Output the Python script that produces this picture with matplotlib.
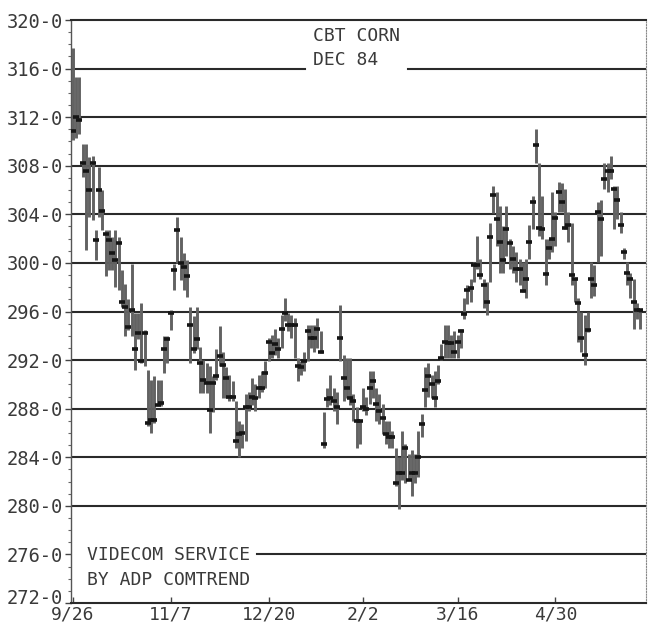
import matplotlib
matplotlib.use("Agg")
import matplotlib.pyplot as plt
import matplotlib.transforms as mtransforms
import numpy as np

# ---- data (CBT Corn Dec 84, daily high / low / close, cents/bu) ----
highs = [
    317.7, 315.3, 315.3, 309.8, 309.8, 308.7, 308.8, 302.7, 307.9, 306.0,
    302.7, 302.7, 302.1, 302.7, 302.1, 299.4, 298.3, 297.0, 299.9, 295.9,
    295.9, 296.7, 294.5, 291.2, 290.4, 290.7, 290.4, 290.4, 294.0, 294.0,
    296.1, 299.9, 303.8, 302.1, 300.8, 300.2, 296.4, 295.6, 296.4, 293.1,
    292.0, 291.8, 291.5, 290.7, 292.9, 294.8,
    292.7, 291.4, 290.8, 290.3, 288.6, 287.0, 286.7, 289.2, 289.4, 290.5,
    290.0, 290.8, 291.1, 291.9, 293.8, 294.1, 294.6, 293.8, 295.7, 297.1,
    295.9, 295.7, 295.5, 292.2, 291.9, 292.7, 294.9, 294.9, 294.9, 295.5,
    294.4, 287.7, 289.7, 290.8, 289.7, 289.4, 296.5, 292.4, 292.2, 292.2,
    289.2, 288.1, 287.0, 289.7, 289.0,
    291.1, 291.1, 289.7, 289.2, 288.4, 287.0, 287.0, 286.2, 284.8, 284.0,
    286.2, 285.1, 284.3, 284.6, 284.3, 286.2, 287.6, 291.4, 291.8, 290.8,
    291.1, 291.6, 293.3, 294.9, 294.9, 294.1, 294.4, 294.1, 294.6, 297.1,
    298.2, 298.7, 300.1, 302.2, 300.3, 298.7, 298.4, 303.3, 306.3, 305.8,
    304.7, 303.0, 304.7,
    302.0, 301.4, 300.9, 300.3, 300.1, 300.3, 303.1, 305.5, 311.0, 308.2,
    305.5, 302.0, 302.0, 305.8, 304.2, 306.7, 306.6, 306.1, 304.2, 303.3,
    298.7, 297.1, 296.0, 295.7, 296.0, 300.1, 299.8, 305.0, 305.2, 308.2,
    308.2, 308.8, 306.3, 306.3, 304.2, 301.2, 300.1, 299.2, 298.7, 296.7,
    296.0,
]
lows = [
    310.1, 310.3, 310.6, 307.1, 301.1, 303.8, 303.5, 300.2, 303.8, 302.7,
    298.9, 299.4, 299.4, 298.0, 297.8, 296.4, 294.0, 294.5, 294.0, 291.2,
    293.7, 291.8, 291.5, 286.6, 286.0, 286.8, 288.2, 288.2, 290.9, 291.8,
    294.5, 297.8, 300.0, 298.6, 297.8, 297.2, 291.8, 292.6, 292.9, 289.3,
    289.3, 289.3, 286.0, 287.7, 290.4, 291.5,
    288.9, 288.9, 288.6, 288.6, 284.8, 284.0, 284.8, 285.3, 287.8, 288.3,
    287.8, 288.9, 289.4, 289.7, 291.9, 292.2, 292.4, 292.2, 293.0, 295.2,
    294.4, 293.8, 292.2, 290.3, 290.8, 291.1, 291.9, 293.0, 292.7, 293.0,
    292.6, 284.8, 288.1, 288.3, 287.8, 286.7, 291.9, 288.6, 288.9, 288.3,
    287.0, 284.8, 285.1, 287.8, 287.5,
    288.4, 288.9, 287.0, 286.7, 285.9, 285.1, 284.8, 284.8, 281.6, 279.7,
    282.1, 281.9, 282.1, 280.8, 281.9, 282.4, 285.7, 288.1, 289.0, 288.9,
    288.1, 290.0, 292.0, 292.2, 292.2, 292.2, 292.2, 292.2, 293.0, 295.4,
    296.6, 296.8, 298.4, 299.5, 298.7, 296.3, 295.7, 298.4, 304.1, 301.4,
    299.2, 299.2, 300.6,
    299.5, 299.2, 298.4, 298.2, 297.6, 297.1, 300.3, 302.8, 308.2, 302.2,
    302.0, 298.2, 300.3, 300.9, 301.4, 304.2, 304.2, 302.8, 301.7, 298.2,
    296.8, 293.5, 292.7, 291.6, 294.3, 297.1, 297.3, 300.1, 300.6, 306.1,
    305.8, 306.9, 302.8, 303.6, 302.5, 300.3, 298.2, 297.1, 294.6, 295.4,
    294.6,
]
closes = [
    310.9, 312.0, 311.8, 308.2, 307.6, 306.0, 308.2, 301.9, 306.0, 304.3,
    302.4, 301.9, 300.8, 300.2, 301.6, 296.8, 296.4, 294.7, 296.1, 292.9,
    294.2, 291.9, 294.2, 286.8, 287.1, 287.1, 288.3, 288.5, 292.9, 293.7,
    295.9, 299.4, 302.7, 300.0, 299.7, 298.9, 294.9, 292.9, 293.7, 291.8,
    290.4, 290.1, 287.9, 290.1, 290.7, 292.3,
    291.6, 290.5, 289.0, 289.0, 285.3, 285.9, 286.0, 288.1, 288.1, 289.0,
    288.9, 289.7, 289.7, 290.9, 293.5, 292.6, 293.3, 292.9, 294.6, 295.9,
    294.9, 294.9, 294.9, 291.5, 291.4, 291.9, 294.4, 293.8, 293.8, 294.6,
    292.7, 285.1, 288.8, 288.9, 288.6, 288.1, 293.8, 290.5, 289.7, 288.9,
    288.6, 287.0, 287.0, 288.1, 288.0,
    289.7, 290.3, 288.4, 287.8, 287.2, 285.9, 285.7, 285.7, 281.9, 282.7,
    282.7, 284.8, 282.1, 282.7, 282.7, 284.0, 286.7, 289.5, 290.7, 290.0,
    288.9, 290.3, 292.2, 293.5, 293.4, 293.4, 292.7, 293.5, 294.4, 295.8,
    297.8, 297.9, 299.8, 299.8, 299.0, 298.2, 296.8, 302.1, 305.6, 303.6,
    301.7, 300.2, 302.8,
    301.6, 300.3, 299.5, 299.5, 297.7, 298.7, 301.7, 305.0, 309.7, 302.9,
    302.8, 299.1, 301.2, 302.0, 303.7, 305.8, 305.0, 302.9, 303.1, 299.0,
    298.7, 296.7, 293.8, 292.4, 294.5, 298.7, 298.2, 304.2, 303.6, 306.9,
    307.6, 307.6, 306.1, 305.2, 303.1, 300.9, 299.2, 298.7, 296.8, 296.1,
    296.1,
]
date_labels = ["9/26", "11/7", "12/20", "2/2", "3/16", "4/30"]
date_days = [0, 30, 60, 89, 118, 148]          # trading-day offsets
price_ticks = list(range(272, 321, 4))
price_labels = [f"{p}-0" for p in price_ticks]
title_lines = ["CBT CORN", "DEC 84"]
credit_lines = ["VIDECOM SERVICE", "BY ADP COMTREND"]

# ---- figure ----
W, H = 648, 626
fig = plt.figure(figsize=(W / 100, H / 100), dpi=100)
fig.patch.set_facecolor("white")
ax = fig.add_axes([71 / W, 23 / H, 575 / W, 583 / H])

days = np.arange(len(highs))
ink = "#2a2a2a"
txt = "#3a3a3a"
mono = "DejaVu Sans Mono"

ax.set_xlim(-0.6, 175.8)
ax.set_ylim(272, 320)

# horizontal rules
for p in price_ticks[1:-1]:
    if p == 316:
        ax.axhline(p, xmin=0, xmax=0.407, color=ink, lw=1.5, zorder=1)
        ax.axhline(p, xmin=0.586, xmax=1, color=ink, lw=1.5, zorder=1)
    elif p == 276:
        ax.axhline(p, xmin=0.323, xmax=1, color=ink, lw=1.5, zorder=1)
    else:
        ax.axhline(p, color=ink, lw=1.5, zorder=1)

# daily bars
ax.vlines(days, lows, highs, color="#626262", lw=2.1, zorder=2)
ax.plot(days, closes, ls="none", marker="_", ms=4.5, mew=2.6,
        color="#151515", zorder=3)

# spines
for s in ("top", "bottom"):
    ax.spines[s].set_color(ink)
    ax.spines[s].set_linewidth(1.5)
ax.spines["left"].set_color("#555555")
ax.spines["left"].set_linewidth(1.0)
ax.spines["left"].set_linestyle((0, (1, 1)))
ax.spines["right"].set_color("#888888")
ax.spines["right"].set_linewidth(0.8)
ax.spines["right"].set_linestyle((0, (1, 1.5)))

# ticks
ax.set_yticks(price_ticks)
ax.set_yticklabels(price_labels, family=mono, fontsize=13.5, color=txt)
ax.set_yticks(np.arange(272, 321, 1), minor=True)
ax.tick_params(axis="y", which="major", length=4, width=1, color="#444444",
               pad=2, direction="out")
ax.tick_params(axis="y", which="minor", length=2.5, width=0.8,
               color="#666666", direction="out")
ax.set_xticks(date_days)
ax.set_xticklabels(date_labels, family=mono, fontsize=13, color=txt)
ax.tick_params(axis="x", which="major", length=4, width=1, color="#444444",
               direction="in", pad=2)

# lift the bottom price label a little so it sits above the date row
bottom_lab = ax.get_yticklabels()[0]
bottom_lab.set_transform(bottom_lab.get_transform() +
                         mtransforms.ScaledTranslation(0, 5 / 72,
                                                       fig.dpi_scale_trans))

# title & credits
ax.text(0.421, 0.9725, title_lines[0], transform=ax.transAxes, family=mono,
        fontsize=13, color=txt, ha="left", va="center")
ax.text(0.421, 0.931, title_lines[1], transform=ax.transAxes, family=mono,
        fontsize=13, color=txt, ha="left", va="center")
ax.text(0.028, 0.082, credit_lines[0], transform=ax.transAxes, family=mono,
        fontsize=13, color=txt, ha="left", va="center")
ax.text(0.028, 0.039, credit_lines[1], transform=ax.transAxes, family=mono,
        fontsize=13, color=txt, ha="left", va="center")

fig.savefig("out.png", dpi=100, facecolor="white")
